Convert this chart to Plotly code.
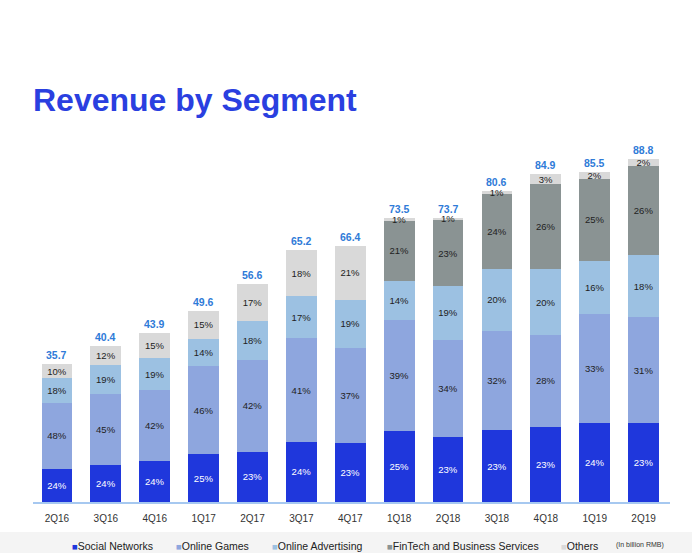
import plotly.graph_objects as go

quarters = ["2Q16", "3Q16", "4Q16", "1Q17", "2Q17", "3Q17", "4Q17",
            "1Q18", "2Q18", "3Q18", "4Q18", "1Q19", "2Q19"]
totals = [35.7, 40.4, 43.9, 49.6, 56.6, 65.2, 66.4, 73.5, 73.7, 80.6, 84.9, 85.5, 88.8]

social_pct = [24, 24, 24, 25, 23, 24, 23, 25, 23, 23, 23, 24, 23]
games_pct = [48, 45, 42, 46, 42, 41, 37, 39, 34, 32, 28, 33, 31]
ads_pct = [18, 19, 19, 14, 18, 17, 19, 14, 19, 20, 20, 16, 18]
fintech_pct = [0, 0, 0, 0, 0, 0, 0, 21, 23, 24, 26, 25, 26]
others_pct = [10, 12, 15, 15, 17, 18, 21, 1, 1, 1, 3, 2, 2]

segments = [
    ("Social Networks", social_pct, "#1f37dc", "white"),
    ("Online Games", games_pct, "#8ea6de", "#222222"),
    ("Online Advertising", ads_pct, "#9cc1e2", "#222222"),
    ("FinTech and Business Services", fintech_pct, "#8a9393", "#222222"),
    ("Others", others_pct, "#d9d9d9", "#222222"),
]

x_idx = list(range(len(quarters)))
fig = go.Figure()
for name, pct, color, tcolor in segments:
    vals = [p * t / 100 for p, t in zip(pct, totals)]
    texts = [f"{p}%" if p > 0 else "" for p in pct]
    fig.add_trace(go.Bar(
        x=x_idx, y=vals, name=name, marker=dict(color=color, line=dict(width=0)),
        text=texts, textposition="inside", insidetextanchor="middle",
        constraintext="none",
        textfont=dict(family="Liberation Sans, Arial", size=9.5, color=tcolor),
        showlegend=False, hoverinfo="skip",
    ))

W, H = 692, 553
L, R, T, B = 33, 22, 140, 51
pw, ph = W - L - R, H - T - B


def px_x(x):
    return (x - L) / pw


def px_y(y):
    return 1 - (y - T) / ph


annotations = []
# total labels above each bar
for xi, t in zip(x_idx, totals):
    annotations.append(dict(
        x=xi, y=t, xref="x", yref="y", xanchor="center", yanchor="bottom",
        yshift=2, text=f"<b>{t:.1f}</b>", showarrow=False, borderpad=0,
        font=dict(family="Liberation Sans, Arial", size=10.5, color="#2f7bd8"),
    ))

legend_x = [70, 174, 270, 385, 559]
for (name, _, color, _), lx in zip(segments, legend_x):
    annotations.append(dict(
        x=px_x(lx), y=px_y(546), xref="paper", yref="paper", xanchor="left", yanchor="middle",
        text=f"<span style='color:{color};font-size:9.5px'>■</span>{name}", showarrow=False,
        font=dict(family="Liberation Sans, Arial", size=10.5, color="#222222"),
    ))
annotations.append(dict(
    x=px_x(614), y=px_y(545), xref="paper", yref="paper", xanchor="left", yanchor="middle",
    text="(In billion RMB)", showarrow=False,
    font=dict(family="Liberation Sans, Arial", size=7, color="#333333"),
))
annotations.append(dict(
    x=px_x(31), y=px_y(100), xref="paper", yref="paper", xanchor="left", yanchor="middle",
    text="<b>Revenue by Segment</b>", showarrow=False,
    font=dict(family="Liberation Sans, Arial", size=32, color="#2a3fe0"),
))

fig.update_layout(
    width=W, height=H, margin=dict(l=L, r=R, t=T, b=B),
    paper_bgcolor="white", plot_bgcolor="white",
    barmode="stack", bargap=0.37, showlegend=False,
    annotations=annotations,
    shapes=[dict(type="rect", xref="paper", yref="paper",
                 x0=px_x(0), x1=px_x(W), y0=px_y(H), y1=px_y(532),
                 fillcolor="#f4f4f4", line=dict(width=0), layer="below")],
    xaxis=dict(tickmode="array", tickvals=x_idx, ticktext=quarters, range=[-0.49, 12.54],
               showline=True, linecolor="#a6c8f0", linewidth=2, showgrid=False, zeroline=False,
               ticks="", ticklabelstandoff=6,
               tickfont=dict(family="Liberation Sans, Arial", size=10, color="#333333")),
    yaxis=dict(range=[0, 93.8], visible=False, showgrid=False, zeroline=False),
    font=dict(family="Liberation Sans, Arial"),
)
fig.write_html("out.html")
